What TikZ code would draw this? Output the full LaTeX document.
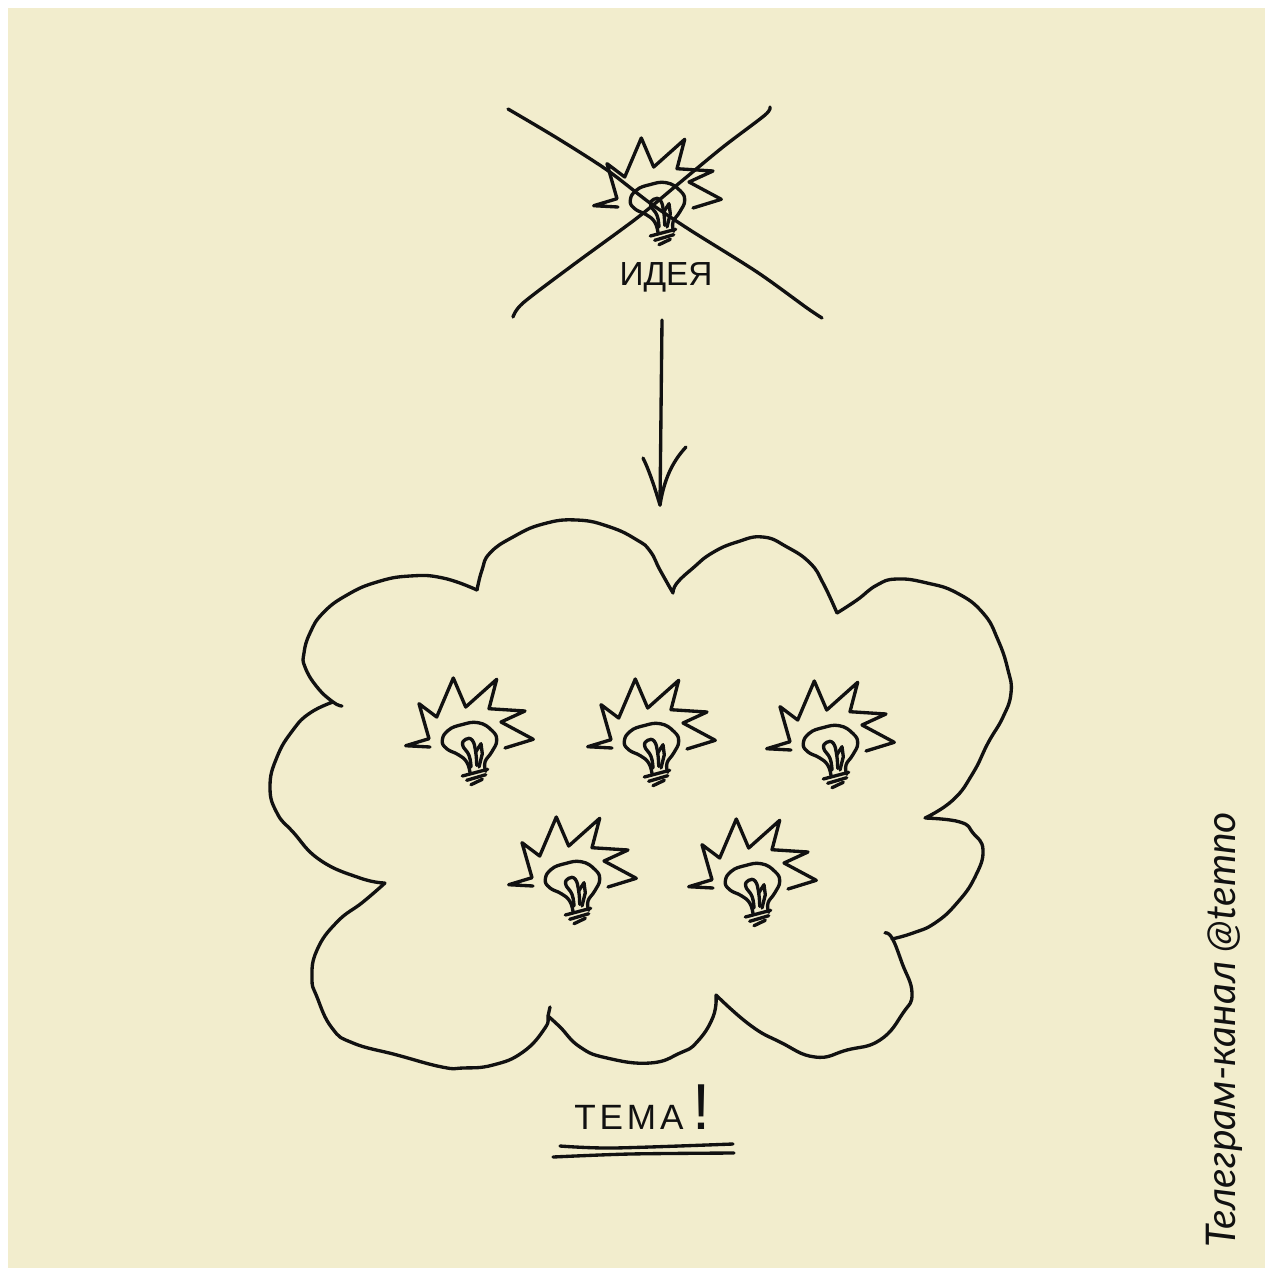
\documentclass[tikz,border=0pt]{standalone}
\usepackage{fontspec}
\setmainfont{Liberation Sans}
\newfontfamily\handfont{Liberation Sans}
\newfontfamily\widefont[LetterSpace=11]{Liberation Sans}
\newfontfamily\signfont{Lato}
\usetikzlibrary{positioning}
\definecolor{paper}{HTML}{F2EDCD}
\definecolor{ink}{HTML}{111111}

\tikzset{
    ink line/.style={draw=ink, line width=1.9pt, line cap=round, line join=round},
    bulb/.pic={
        % Rays
        \draw[ink line] (-39,15) -- (-63.3,13.7) -- (-40,6.7) -- (-50,-28.3) -- (-32.3,-15) -- (-15.7,-54) -- (-3.3,-25) -- (27.7,-52.7) -- (20,-23.3) -- (56,-21) -- (32,-10) -- (64.3,7.3) -- (36,16);
        % Glass
        \draw[ink line] plot[smooth, tension=0.8] coordinates {(1,40.7) (-2.3,30) (-10.7,22.7) (-22.3,16.7) (-26.7,8.3) (-20.7,-1.7) (-7.3,-7.3) (9.3,-9.3) (22.7,-1.7) (27.7,8.3) (22.7,20) (16,30) (16.7,39.3)};
        % Filament
        \draw[ink line] plot[smooth, tension=0.8] coordinates {(2,35) (0,23.3) (-6.3,13.3) (-3.3,7.3) (3.3,8.3) (6.7,20) (7.7,33.3)};
        \draw[ink line] (6.7,20) -- (12,11.7) -- (13.3,21.7) -- (10,35);
        % Base
        \draw[ink line] (-6.7,44) -- (18.7,37.3);
        \draw[ink line] (-2.3,48.3) -- (16.7,42.7);
        \draw[ink line] (2,52.7) -- (13.3,47.3);
    }
}

\begin{document}
\begin{tikzpicture}[x=0.02cm, y=-0.02cm]

    % Page and paper
    \useasboundingbox (0,0) rectangle (1265,1268);
    \fill[white] (0,0) rectangle (1265,1268);
    \fill[paper] (8,8) rectangle (1265,1268);

    % Crossed out bulb
    \pic (bulb-0) at (657,192) {bulb};
    \draw[ink line] plot[smooth, tension=0.5] coordinates {(508,109) (557,138) (607,170) (650,203) (690,230) (757,272) (807,308) (822,318)};
    \draw[ink line] plot[smooth, tension=0.5] coordinates {(770,107) (765,115) (723,147) (677,185) (637,218) (573,265) (523,303) (513,317)};
    \node[font=\handfont\fontsize{19}{19}\selectfont, text=ink, inner sep=0pt] (idea-label) at (666,277) {ИДЕЯ};

    % Arrow down to the cloud
    \coordinate (arrow-top) at (662,320);
    \coordinate (arrow-tip) at (660,505);
    \coordinate (barb-left) at (643,458);
    \coordinate (barb-right) at (686,447);
    \draw[ink line] (arrow-top) -- (arrow-tip);
    \draw[ink line] (barb-left) .. controls (650,472) and (656,492) .. (arrow-tip);
    \draw[ink line] (barb-right) .. controls (672,462) and (664,480) .. (arrow-tip);

    % Cloud, lobe by lobe
    \draw[ink line]
        plot[smooth, tension=0.8] coordinates {(342,706) (333,702) (317,687) (305,667) (304,653) (310,633) (323,613) (347,595) (377,582) (410,576) (443,578) (477,590)}
        plot[smooth, tension=0.8] coordinates {(477,590) (482,570) (490,553) (513,537) (543,524) (577,520) (610,527) (637,540) (650,551) (660,570) (673,593)}
        plot[smooth, tension=0.8] coordinates {(673,593) (677,583) (693,568) (712,553) (737,542) (763,537) (787,547) (810,563) (823,583) (837,613)}
        plot[smooth, tension=0.8] coordinates {(837,613) (857,600) (877,585) (897,579) (927,583) (957,593) (983,613) (998,640) (1008,670) (1011,693) (1003,717) (988,743) (973,773) (953,800) (925,818)}
        plot[smooth, tension=0.8] coordinates {(925,818) (960,822) (973,833) (983,850) (975,877) (957,903) (935,923) (913,933) (892,939)}
        plot[smooth, tension=0.8] coordinates {(885,933) (892,938) (902,963) (912,993) (903,1013) (880,1040) (847,1050) (815,1057) (780,1042) (750,1025) (716,995)}
        plot[smooth, tension=0.8] coordinates {(716,995) (713,1017) (697,1042) (680,1053) (650,1063) (607,1058) (580,1047) (560,1027) (548,1016)}
        plot[smooth, tension=0.8] coordinates {(550,1007) (548,1016) (545,1028) (523,1052) (493,1065) (463,1068) (442,1067) (397,1055) (353,1043) (332,1028) (317,997) (312,978) (317,950) (337,922) (363,902) (385,883)}
        plot[smooth, tension=0.8] coordinates {(385,883) (360,878) (320,860) (293,832) (277,813) (270,787) (277,757) (293,730) (310,713) (333,702)};

    % Bulbs inside the cloud
    \foreach \i/\x/\y in {1/469/732, 2/651/733, 3/830/735, 4/572/871, 5/752/873}
        \pic (bulb-\i) at (\x,\y) {bulb};

    % Label under the cloud
    \node[font=\widefont\fontsize{20}{20}\selectfont, text=ink, inner sep=0pt, anchor=base west] (topic-label) at (574,1129) {ТЕМА{\handfont\fontsize{37}{37}\selectfont\hspace{5pt}!}};
    \draw[ink line] plot[smooth, tension=0.5] coordinates {(560,1146) (613,1148) (733,1144)};
    \draw[ink line] plot[smooth, tension=0.5] coordinates {(553,1157) (630,1154) (734,1153)};

    % Channel name
    \node[font=\signfont\itshape\fontsize{23.3}{23.3}\selectfont, text=ink, rotate=90, inner sep=0pt, anchor=base west] (channel-label) at (1235,1248) {Телеграм-канал @temno};

\end{tikzpicture}
\end{document}
